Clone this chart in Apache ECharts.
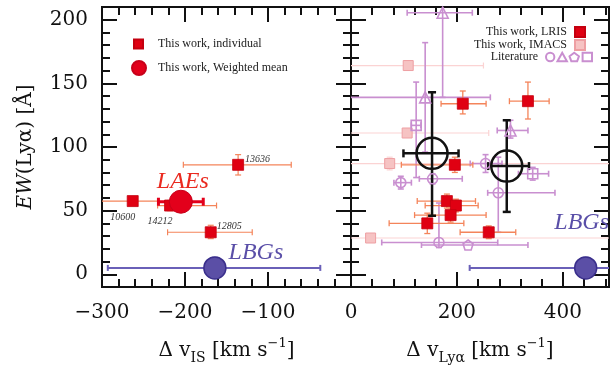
<!DOCTYPE html>
<html>
<head>
<meta charset="utf-8">
<script src="https://cdn.jsdelivr.net/npm/echarts@6/dist/echarts.min.js"></script>
<style>
html, body { margin: 0; padding: 0; background: #fff; }
#main { width: 614px; height: 370px; }
</style>
</head>
<body>
<div id="main"></div>
<script>
// every point: [x, y, xlo, xhi, ylo, yhi]  (null = no bar)
// left panel, dv_IS
var laeIds = ['13636', '10600', '14212', '12805'];
var laeIndiv = [
	[-136, 86, -202, -72, 78, 94],
	[-263, 57.5, -320, -232, 55, 60],
	[-218, 54, -233, -162, 50, 58],
	[-169, 33, -221, -119, 28, 38.5]
];
var laeMean = [[-205, 57, -232, -178, 53, 61]];
var lbgIS = [[-164, 5, -293, -37, 0, 13]];

// right panel, dv_Lya
var lris = [
	[211, 134, 170, 255, 126, 144],
	[334, 136, 299, 374, 122, 151],
	[196, 86, 95, 230, 80, 92],
	[181, 57.5, 125, 235, 52, 63],
	[198, 54, 140, 240, 49, 59],
	[188, 46.5, 120, 255, 41, 52],
	[144, 40, 72, 213, 32, 48],
	[260, 33, 206, 311, 28, 38]
];
var imacs = [
	[108, 164, -10, 250, null, null],
	[106, 111, -10, 260, null, null],
	[73, 87, -10, 600, 82, 92],
	[37, 28.5, -10, 600, null, null]
];
var litShapes = ['triangle', 'triangle', 'rect', 'triangle', 'circle', 'rect', 'circle', 'circle', 'circle', 'circle', 'pentagon'];
var literature = [
	[173, 205.5, 106, 229, 139, 230],
	[140, 139, -10, 263, 96, 182],
	[123, 117, 114, 132, 76, 151],
	[301, 113, 276, 334, 107, 121],
	[254, 87, 225, 285, 80, 94],
	[343, 79, 316, 373, 74, 84],
	[94, 72, 81, 114, 67, 77],
	[154, 75, 129, 210, 71, 79],
	[278, 64, 258, 385, 33, 92],
	[166, 25, 58, 277, 21, 56],
	[221, 23, 133, 334, null, null]
];
var meanLya = [
	[153, 95, 99, 203, 46, 143],
	[294, 85, 259, 336, 49, 121]
];
var lbgLya = [[443, 5, 224, 600, 0, 13]];

var yTicks = [0, 50, 100, 150, 200];

var serif = 'DejaVu Serif';
var lserif = 'Liberation Serif';
var ink = '#111';

var pentagon = 'path://M5,0L10,3.8L8.1,10L1.9,10L0,3.8Z';
var litIcon = 'path://M1,5A4,4 0 1,1 9,5A4,4 0 1,1 1,5ZM12,9L16.5,1L21,9ZM28,1L32.5,4.3L30.8,9L25.2,9L23.5,4.3ZM36,1L45,1L45,9L36,9Z';

function errorBars(color, width, cap) {
	return function (params, api) {
		var x = api.value(0), y = api.value(1);
		var xlo = api.value(2), xhi = api.value(3), ylo = api.value(4), yhi = api.value(5);
		var st = { stroke: color, lineWidth: width };
		var kids = [];
		function seg(a, b) {
			kids.push({ type: 'line', shape: { x1: a[0], y1: a[1], x2: b[0], y2: b[1] }, style: st });
		}
		if (!isNaN(xlo) && !isNaN(xhi)) {
			var a = api.coord([xlo, y]), b = api.coord([xhi, y]);
			seg(a, b);
			seg([a[0], a[1] - cap], [a[0], a[1] + cap]);
			seg([b[0], b[1] - cap], [b[0], b[1] + cap]);
		}
		if (!isNaN(ylo) && !isNaN(yhi)) {
			var c = api.coord([x, ylo]), d = api.coord([x, yhi]);
			seg(c, d);
			seg([c[0] - cap, c[1]], [c[0] + cap, c[1]]);
			seg([d[0] - cap, d[1]], [d[0] + cap, d[1]]);
		}
		return { type: 'group', children: kids };
	};
}

function errSeries(data, xi, yi, color, width, cap) {
	return {
		type: 'custom', xAxisIndex: xi, yAxisIndex: yi, clip: true, silent: true,
		renderItem: errorBars(color, width, cap),
		encode: { x: 0, y: 1 },
		data: data
	};
}

function pts(data) {
	return data.map(function (d) { return [d[0], d[1]]; });
}

function frame(grid, pos, min, max, interval, len) {
	var ax = {
		type: 'value', gridIndex: grid, position: pos, min: min, max: max,
		axisLine: { show: true, onZero: false, lineStyle: { color: ink, width: 2 } },
		axisTick: { show: true, inside: true, length: len, lineStyle: { color: ink, width: 2 } },
		axisLabel: { show: false },
		splitLine: { show: false }
	};
	if (interval) ax.interval = interval;
	return ax;
}

function minus(v) {
	return v < 0 ? '\u2212' + (-v) : String(v);
}

var tickFont = { show: true, fontFamily: serif, fontSize: 20, color: ink };

var xL = frame(0, 'bottom', -300, 0, 100, 15);
xL.axisLabel = Object.assign({}, tickFont, { margin: 16, showMaxLabel: false, formatter: minus });
xL.name = '{n|\u0394 v}{s|IS}{n| [km s}{p|\u22121}{n|]}';
xL.nameLocation = 'middle';
xL.nameGap = 50;

var xR = frame(1, 'bottom', 0, 487, 200, 15);
xR.axisLabel = Object.assign({}, tickFont, { margin: 16, showMaxLabel: false });
xR.name = '{n|\u0394 v}{s|Ly\u03b1}{n| [km s}{p|\u22121}{n|]}';
xR.nameLocation = 'middle';
xR.nameGap = 50;

var nameRich = {
	fontFamily: serif, fontSize: 20, color: ink,
	rich: {
		n: { fontFamily: serif, fontSize: 20, color: ink, lineHeight: 28 },
		i: { fontFamily: serif, fontSize: 20, color: ink, fontStyle: 'italic', lineHeight: 28 },
		s: { fontFamily: serif, fontSize: 14, color: ink, verticalAlign: 'bottom', lineHeight: 14, padding: [6, 0, 0, 0] },
		p: { fontFamily: serif, fontSize: 13, color: ink, verticalAlign: 'top', lineHeight: 13 }
	}
};
xL.nameTextStyle = nameRich;
xR.nameTextStyle = nameRich;

var yL = frame(0, 'left', -10, 210, null, 15);
yL.axisTick.customValues = yTicks;
yL.axisLabel = Object.assign({}, tickFont, { margin: 14, customValues: yTicks });
yL.name = '{i|EW}{n|(Ly\u03b1) [\u00c5]}';
yL.nameLocation = 'middle';
yL.nameRotate = 90;
yL.nameGap = 62;
yL.nameTextStyle = nameRich;

function yMajor(grid, pos) {
	var a = frame(grid, pos, -10, 210, null, 15);
	a.axisTick.customValues = yTicks;
	return a;
}

var legendText = { fontFamily: lserif, fontSize: 12, color: '#222' };

var option = {
	animation: false,
	backgroundColor: '#fff',
	grid: [
		{ left: 102, top: 7, width: 249, height: 280 },
		{ left: 351, top: 7, width: 258, height: 280 }
	],
	xAxis: [
		xL,
		frame(0, 'bottom', -300, 0, 20, 8),
		frame(0, 'top', -300, 0, 100, 15),
		frame(0, 'top', -300, 0, 20, 8),
		xR,
		frame(1, 'bottom', 0, 487, 40, 8),
		frame(1, 'top', 0, 487, 200, 15),
		frame(1, 'top', 0, 487, 40, 8)
	],
	yAxis: [
		yL,
		frame(0, 'left', -10, 210, 10, 8),
		yMajor(0, 'right'),
		frame(0, 'right', -10, 210, 10, 8),
		yMajor(1, 'left'),
		frame(1, 'left', -10, 210, 10, 8),
		yMajor(1, 'right'),
		frame(1, 'right', -10, 210, 10, 8)
	],
	legend: [
		{
			data: ['This work, individual'], left: 128, top: 33, itemWidth: 9, itemHeight: 9,
			selectedMode: false, textStyle: Object.assign({ padding: [0, 0, 0, 10] }, legendText)
		},
		{
			data: ['This work, Weighted mean'], left: 126, top: 55, itemWidth: 14, itemHeight: 14,
			selectedMode: false, textStyle: Object.assign({ padding: [0, 0, 0, 7] }, legendText)
		},
		{
			data: ['This work, LRIS'], right: 23, top: 21, align: 'right', itemWidth: 10, itemHeight: 10,
			selectedMode: false, textStyle: Object.assign({ padding: [0, 3, 0, 0] }, legendText)
		},
		{
			data: ['This work, IMACS'], right: 23, top: 34, align: 'right', itemWidth: 10, itemHeight: 10,
			selectedMode: false, textStyle: Object.assign({ padding: [0, 3, 0, 0] }, legendText)
		},
		{
			data: [{ name: 'Literature', icon: litIcon }], right: 16, top: 46, align: 'right', itemWidth: 46, itemHeight: 10,
			selectedMode: false, textStyle: Object.assign({ padding: [0, 3, 0, 0] }, legendText)
		}
	],
	series: [
		// left panel
		errSeries(laeIndiv, 0, 0, '#f4845a', 1.2, 3),
		errSeries(lbgIS, 0, 0, '#6a60b8', 2, 3),
		errSeries(laeMean, 0, 0, '#e3001b', 3, 4),
		{
			name: 'This work, individual', type: 'scatter', xAxisIndex: 0, yAxisIndex: 0,
			symbol: 'rect', symbolSize: 11, z: 5,
			itemStyle: { color: '#e00012', borderColor: '#c4000f', borderWidth: 0.8, opacity: 1 },
			label: { show: true, fontFamily: lserif, fontStyle: 'italic', fontSize: 10, color: '#333' },
			data: laeIndiv.map(function (d, i) {
				var lab = [
					{ position: 'right', distance: 1, offset: [0, -5] },
					{ position: 'bottom', distance: 5, offset: [-10, 0] },
					{ position: 'bottom', distance: 5, offset: [-10, 0] },
					{ position: 'right', distance: 0, offset: [0, -6] }
				][i];
				lab.formatter = laeIds[i];
				return { value: [d[0], d[1]], label: lab };
			})
		},
		{
			name: 'This work, Weighted mean', type: 'scatter', xAxisIndex: 0, yAxisIndex: 0,
			symbol: 'circle', symbolSize: 23, z: 6,
			itemStyle: { color: '#e3001b', borderColor: '#c8001a', borderWidth: 1, opacity: 1 },
			label: {
				show: true, formatter: 'LAEs', position: 'inside', offset: [2, -20],
				fontFamily: lserif, fontStyle: 'italic', fontSize: 24, color: '#ea2a20'
			},
			data: pts(laeMean)
		},
		{
			name: 'LBG IS', type: 'scatter', xAxisIndex: 0, yAxisIndex: 0,
			symbol: 'circle', symbolSize: 22, z: 6,
			itemStyle: { color: '#5b4fa6', borderColor: '#3a2f8c', borderWidth: 1.5, opacity: 1 },
			label: {
				show: true, formatter: 'LBGs', position: 'inside', offset: [41, -15],
				fontFamily: lserif, fontStyle: 'italic', fontSize: 24, color: '#5a4fa8'
			},
			data: pts(lbgIS)
		},
		// right panel
		errSeries(imacs, 4, 4, '#fbd3d3', 1.2, 3),
		errSeries(literature, 4, 4, '#c98fd0', 1.6, 3),
		errSeries(lris, 4, 4, '#f4845a', 1.3, 3),
		errSeries(lbgLya, 4, 4, '#6a60b8', 2, 3),
		{
			name: 'This work, IMACS', type: 'scatter', xAxisIndex: 4, yAxisIndex: 4,
			symbol: 'rect', symbolSize: 10, z: 5,
			itemStyle: { color: '#f6c3c3', borderColor: '#ee9fa3', borderWidth: 1, opacity: 1 },
			data: pts(imacs)
		},
		{
			name: 'Literature', type: 'scatter', xAxisIndex: 4, yAxisIndex: 4,
			symbol: 'circle', symbolSize: 10, z: 5,
			itemStyle: { color: 'rgba(255,255,255,0)', borderColor: '#c98fd0', borderWidth: 1.6, opacity: 1 },
			data: literature.map(function (d, i) {
				var s = litShapes[i];
				return { value: [d[0], d[1]], symbol: s === 'pentagon' ? pentagon : s, symbolSize: s === 'triangle' ? 11 : 10 };
			})
		},
		{
			name: 'This work, LRIS', type: 'scatter', xAxisIndex: 4, yAxisIndex: 4,
			symbol: 'rect', symbolSize: 11, z: 6,
			itemStyle: { color: '#e00012', borderColor: '#c4000f', borderWidth: 0.8, opacity: 1 },
			data: pts(lris)
		},
		errSeries(meanLya, 4, 4, ink, 2.5, 4),
		{
			name: 'Mean Lya', type: 'scatter', xAxisIndex: 4, yAxisIndex: 4,
			symbol: 'circle', symbolSize: 31, z: 7,
			itemStyle: { color: 'rgba(255,255,255,0)', borderColor: ink, borderWidth: 2.5, opacity: 1 },
			data: pts(meanLya)
		},
		{
			name: 'LBG Lya', type: 'scatter', xAxisIndex: 4, yAxisIndex: 4,
			symbol: 'circle', symbolSize: 22, z: 6,
			itemStyle: { color: '#5b4fa6', borderColor: '#3a2f8c', borderWidth: 1.5, opacity: 1 },
			label: {
				show: true, formatter: 'LBGs', position: 'inside', offset: [-4, -45],
				fontFamily: lserif, fontStyle: 'italic', fontSize: 24, color: '#5a4fa8'
			},
			data: pts(lbgLya)
		}
	]
};

var chart = echarts.init(document.getElementById('main'));
chart.setOption(option);
</script>
</body>
</html>
